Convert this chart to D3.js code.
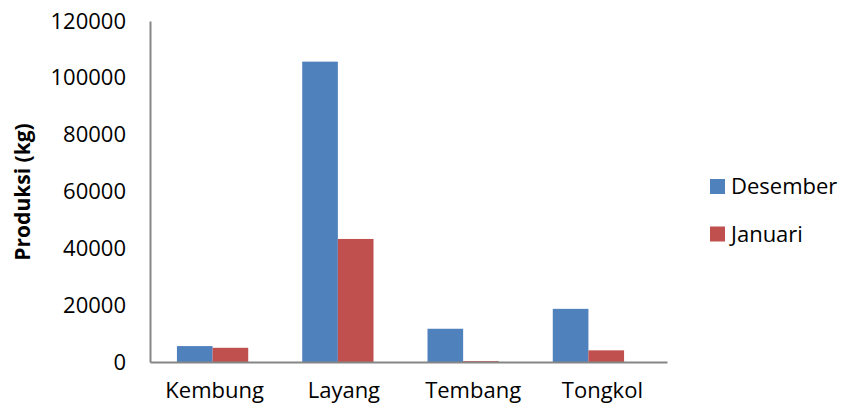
<!DOCTYPE html>
<html><head><meta charset="utf-8">
<script src="https://cdn.jsdelivr.net/npm/d3@7"></script>
<style>body{margin:0;background:#fff}svg{display:block}text{font-family:"Open Sans",sans-serif;fill:#000}</style>
</head><body><svg id="c" width="844" height="412"></svg>
<script>
const categories = ["Kembung", "Layang", "Tembang", "Tongkol"];
const seriesNames = ["Desember", "Januari"];
const desember = [5600, 105700, 11700, 18700];
const januari = [5000, 43300, 300, 4100];
const yTicks = [0, 20000, 40000, 60000, 80000, 100000, 120000];
const colors = ["#4F81BD", "#C0504D"];

const svg = d3.select("#c");
const y = d3.scaleLinear().domain([0, 120000]).range([362, 21]);
const xBars = d3.scaleBand().domain(categories).range([150, 651]).paddingInner(0.431).paddingOuter(0.215);
const xLab = d3.scaleBand().domain(categories).range([150, 667]);
const xs = d3.scaleBand().domain(seriesNames).range([0, xBars.bandwidth()]);
const values = [desember, januari];

const g = svg.append("g");
seriesNames.forEach((s, si) => {
  g.selectAll(null).data(categories).enter().append("rect")
    .attr("x", d => xBars(d) + xs(s))
    .attr("y", (d, i) => y(values[si][i]))
    .attr("width", xs.bandwidth())
    .attr("height", (d, i) => y(0) - y(values[si][i]))
    .attr("fill", colors[si]);
});

// y axis
const ya = svg.append("g").attr("transform", "translate(150,0)")
  .call(d3.axisLeft(y).tickValues(yTicks).tickSize(0).tickPadding(24).tickFormat(d3.format("d")));
ya.select(".domain").attr("stroke", "#868686").attr("stroke-width", 2);
ya.selectAll("text").attr("font-size", 22).attr("font-family", "'Open Sans',sans-serif").attr("fill", "#000");

// x axis
const xa = svg.append("g").attr("transform", "translate(0,362)")
  .call(d3.axisBottom(xLab).tickSize(0).tickPadding(20));
xa.select(".domain").attr("stroke", "#868686").attr("stroke-width", 2);
xa.selectAll("text").attr("font-size", 22).attr("font-family", "'Open Sans',sans-serif").attr("fill", "#000");

// y title
svg.append("text").attr("transform", "translate(30,192) rotate(-90)")
  .attr("text-anchor", "middle").attr("font-size", 21).attr("font-weight", "bold")
  .text("Produksi (kg)");

// legend
const lg = svg.append("g");
seriesNames.forEach((s, i) => {
  const yy = 179 + i * 47.5;
  lg.append("rect").attr("x", 710).attr("y", yy).attr("width", 15).attr("height", 15).attr("fill", colors[i]);
  lg.append("text").attr("x", 731).attr("y", yy + 7.5).attr("dy", "0.35em").attr("font-size", 22).text(s);
});
</script></body></html>
